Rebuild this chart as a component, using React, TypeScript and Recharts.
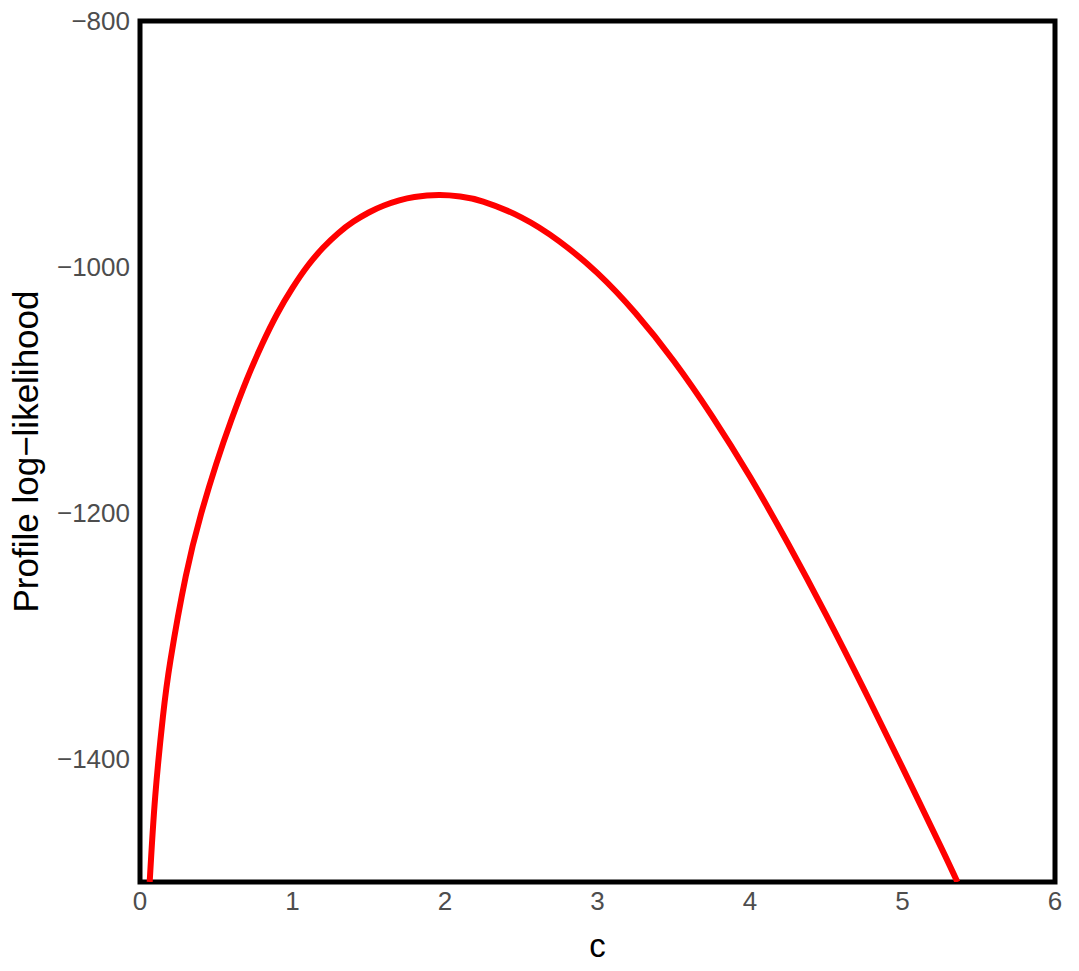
import { LineChart, Line, XAxis, YAxis, ReferenceArea, Label } from "recharts"

// values
const cValues = [
  0.0635, 0.1, 0.15, 0.2, 0.3, 0.4, 0.5, 0.6, 0.7, 0.8, 0.9, 1.0, 1.1, 1.2, 1.3, 1.4, 1.5, 1.6, 1.7, 1.8, 1.96,
  2.1, 2.25, 2.5, 2.75, 3.0, 3.25, 3.5, 3.75, 4.0, 4.25, 4.5, 4.75, 5.0, 5.25, 5.36,
]
const loglik = [
  -1500, -1430, -1366, -1319.5, -1251.5, -1201, -1160, -1124, -1091.5, -1063, -1038, -1017, -999, -984.4, -972.5,
  -963.1, -955.7, -950, -945.9, -943.1, -941.5,
  -942.7, -946.8, -959.6, -979.1, -1005, -1037.6, -1076.4, -1121, -1170.6, -1225, -1283, -1344, -1407, -1471, -1500,
]
const xTicks = [0, 1, 2, 3, 4, 5, 6]
const yTicks = [-1400, -1200, -1000, -800]

const data = cValues.map((c, i) => ({ c, ll: loglik[i] }))

const font = "'Liberation Sans', Arial, Helvetica, sans-serif"
const tickStyle = { fontSize: 26, fill: "#4d4d4d", fontFamily: font }

function minus(v: number) {
  return String(v).replace("-", "\u2212")
}

export default function App() {
  return (
    <div style={{ position: "absolute", left: 0, top: 0, background: "#fff" }}>
      <LineChart width={1079} height={971} data={data} margin={{ top: 21, right: 24, left: 0, bottom: 0 }}>
        <XAxis
          dataKey="c"
          type="number"
          domain={[0, 6]}
          ticks={xTicks}
          axisLine={false}
          tickLine={false}
          tickSize={0}
          tickMargin={10}
          tick={tickStyle}
          height={89}
        >
          <Label value="c" position="insideBottom" offset={14} style={{ fontSize: 33, fill: "#000", fontFamily: font }} />
        </XAxis>
        <YAxis
          type="number"
          domain={[-1500, -800]}
          ticks={yTicks}
          allowDataOverflow
          axisLine={false}
          tickLine={false}
          tickSize={0}
          tickMargin={10}
          tick={tickStyle}
          tickFormatter={minus}
          width={140}
        >
          <Label
            value={"Profile log\u2212likelihood"}
            angle={-90}
            position="insideLeft"
            offset={26}
            style={{ fontSize: 35, fill: "#000", fontFamily: font, textAnchor: "middle" }}
          />
        </YAxis>
        <Line
          type="natural"
          dataKey="ll"
          stroke="#ff0000"
          strokeWidth={6}
          dot={false}
          isAnimationActive={false}
        />
        <ReferenceArea x1={0} x2={6} y1={-1500} y2={-800} fill="none" stroke="#000" strokeWidth={5} />
      </LineChart>
    </div>
  )
}
